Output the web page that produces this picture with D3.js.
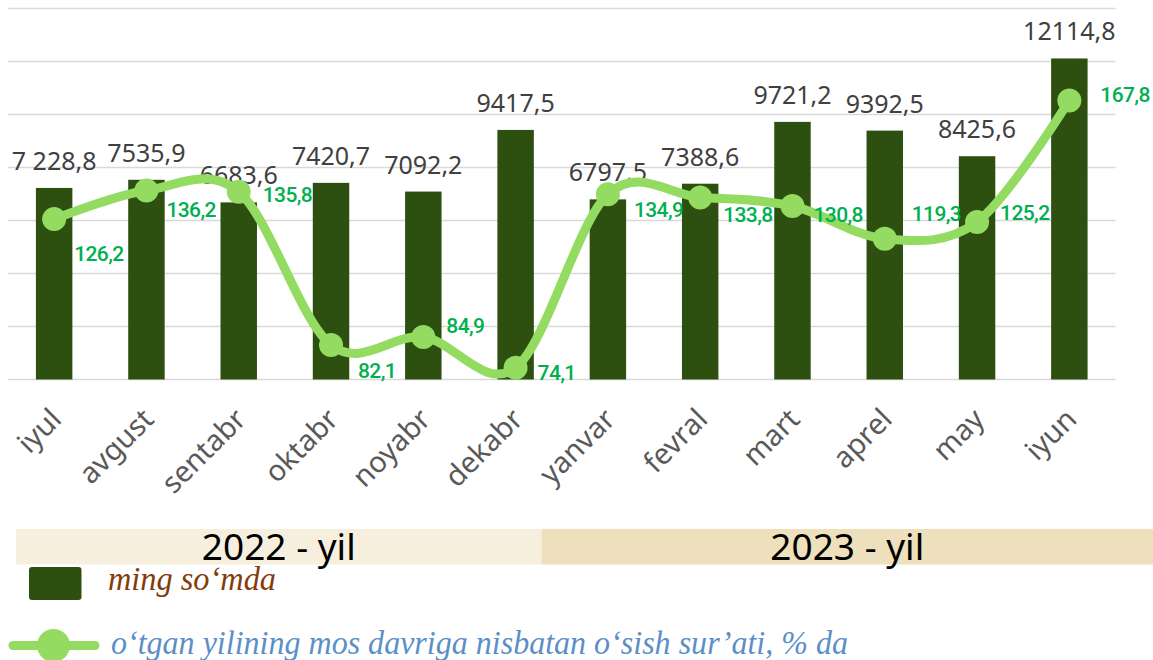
<!DOCTYPE html>
<html>
<head>
<meta charset="utf-8">
<script src="https://cdn.jsdelivr.net/npm/d3@7"></script>
<style>
  body { margin: 0; background: #fff; }
  svg { display: block; }
</style>
</head>
<body>
<div id="container"></div>
<script>
// data
var months = ["iyul", "avgust", "sentabr", "oktabr", "noyabr", "dekabr",
              "yanvar", "fevral", "mart", "aprel", "may", "iyun"];
var values = [7228.8, 7535.9, 6683.6, 7420.7, 7092.2, 9417.5,
              6797.5, 7388.6, 9721.2, 9392.5, 8425.6, 12114.8];
var valueLabels = ["7 228,8", "7535,9", "6683,6", "7420,7", "7092,2", "9417,5",
                   "6797,5", "7388,6", "9721,2", "9392,5", "8425,6", "12114,8"];
var growth = [126.2, 136.2, 135.8, 82.1, 84.9, 74.1,
              134.9, 133.8, 130.8, 119.3, 125.2, 167.8];
var years = [{label: "2022 - yil", from: 0, to: 6}, {label: "2023 - yil", from: 6, to: 12}];
var barTicks = [0, 2000, 4000, 6000, 8000, 10000, 12000, 14000];

// hand placed growth labels (offset from the marker: x to left edge, y to baseline)
var growthOffsets = [[20, 42], [20, 26], [24, 10], [27, 33], [23, -4], [22, 12],
                     [26, 23], [23, 25], [21, 16], [27, -18], [23, -2], [31, 2]];

const width = 1153;
const height = 660;

const svg = d3.select("div#container").append("svg")
    .attr("width", width)
    .attr("height", height);

//----------------------------SCALES----------------------------//
const xScale = d3.scaleBand()
    .domain(months)
    .range([8, 1115.5])
    .paddingInner(0.605)
    .paddingOuter(0.3025);

const yScale = d3.scaleLinear()
    .domain([0, 14000])
    .range([379.5, 8.5]);

const y2Scale = d3.scaleLinear()
    .domain([70, 200])
    .range([379.5, 8.5]);

function cx(i) { return xScale(months[i]) + xScale.bandwidth() / 2; }

//----------------------------GRID-----------------------------//
svg.append("g")
    .attr("class", "grid")
    .selectAll("line")
    .data(barTicks)
    .enter()
    .append("line")
    .attr("x1", 8)
    .attr("x2", 1115.5)
    .attr("y1", function(d) { return yScale(d); })
    .attr("y2", function(d) { return yScale(d); })
    .attr("stroke", "#d9d9d9")
    .attr("stroke-width", 1.6);

//----------------------------BARS-----------------------------//
svg.append("g")
    .selectAll("rect")
    .data(values)
    .enter()
    .append("rect")
    .attr("x", function(d, i) { return xScale(months[i]); })
    .attr("y", function(d) { return yScale(d); })
    .attr("width", xScale.bandwidth())
    .attr("height", function(d) { return yScale(0) - yScale(d); })
    .attr("fill", "#2d5011");

svg.append("g")
    .selectAll("text")
    .data(values)
    .enter()
    .append("text")
    .attr("x", function(d, i) { return cx(i); })
    .attr("y", function(d) { return yScale(d) - 18; })
    .attr("text-anchor", "middle")
    .style("font-family", "'Noto Sans', sans-serif")
    .style("font-size", "25px")
    .style("fill", "#404040")
    .text(function(d, i) { return valueLabels[i]; });

//----------------------------LINE-----------------------------//
const line = d3.line()
    .x(function(d, i) { return cx(i); })
    .y(function(d) { return y2Scale(d); })
    .curve(d3.curveCardinal.tension(0));

svg.append("path")
    .datum(growth)
    .attr("d", line)
    .attr("fill", "none")
    .attr("stroke", "#94db62")
    .attr("stroke-width", 9)
    .attr("stroke-linecap", "round");

svg.append("g")
    .selectAll("circle")
    .data(growth)
    .enter()
    .append("circle")
    .attr("cx", function(d, i) { return cx(i); })
    .attr("cy", function(d) { return y2Scale(d); })
    .attr("r", 12)
    .attr("fill", "#94db62");

svg.append("g")
    .selectAll("text")
    .data(growth)
    .enter()
    .append("text")
    .attr("x", function(d, i) { return cx(i) + growthOffsets[i][0]; })
    .attr("y", function(d, i) { return y2Scale(d) + growthOffsets[i][1]; })
    .style("font-family", "Roboto, sans-serif")
    .style("font-size", "21px")
    .style("font-weight", "500")
    .style("letter-spacing", "-0.6px")
    .style("fill", "#00b050")
    .text(function(d) { return d3.format(".1f")(d).replace(".", ","); });

//---------------------------X AXIS----------------------------//
svg.append("g")
    .selectAll("text")
    .data(months)
    .enter()
    .append("text")
    .attr("transform", function(d, i) {
      return "translate(" + (cx(i) + 9) + ",421) rotate(-45)";
    })
    .attr("text-anchor", "end")
    .style("font-family", "'Noto Sans', sans-serif")
    .style("font-size", "29px")
    .style("fill", "#595959")
    .text(function(d) { return d; });

//---------------------------YEARS-----------------------------//
const yearX = d3.scaleLinear().domain([0, 6, 12]).range([16, 541.5, 1153]);
const yearColors = ["#f7efde", "#efe0bd"];

const yearG = svg.append("g")
    .selectAll("g")
    .data(years)
    .enter()
    .append("g");

yearG.append("rect")
    .attr("x", function(d) { return yearX(d.from); })
    .attr("y", 529)
    .attr("width", function(d) { return yearX(d.to) - yearX(d.from); })
    .attr("height", 35.5)
    .attr("fill", function(d, i) { return yearColors[i]; });

yearG.append("text")
    .attr("x", function(d) { return (yearX(d.from) + yearX(d.to)) / 2; })
    .attr("y", 560)
    .attr("text-anchor", "middle")
    .attr("textLength", 154)
    .attr("lengthAdjust", "spacingAndGlyphs")
    .style("font-family", "'Noto Sans', sans-serif")
    .style("font-size", "37px")
    .style("fill", "#000")
    .text(function(d) { return d.label; });

//---------------------------LEGEND----------------------------//
svg.append("rect")
    .attr("x", 29)
    .attr("y", 567)
    .attr("width", 52.5)
    .attr("height", 33)
    .attr("rx", 3)
    .attr("fill", "#2d5011");

svg.append("text")
    .attr("x", 108)
    .attr("y", 590)
    .attr("textLength", 168)
    .attr("lengthAdjust", "spacingAndGlyphs")
    .style("font-family", "'Liberation Serif', serif")
    .style("font-style", "italic")
    .style("font-size", "33px")
    .style("fill", "#843c0c")
    .text("ming so\u2018mda");

svg.append("line")
    .attr("x1", 13)
    .attr("x2", 95)
    .attr("y1", 645.5)
    .attr("y2", 645.5)
    .attr("stroke", "#94db62")
    .attr("stroke-width", 9)
    .attr("stroke-linecap", "round");

svg.append("circle")
    .attr("cx", 53.5)
    .attr("cy", 645.5)
    .attr("r", 16.5)
    .attr("fill", "#94db62");

svg.append("text")
    .attr("x", 111)
    .attr("y", 654)
    .attr("textLength", 737)
    .attr("lengthAdjust", "spacingAndGlyphs")
    .style("font-family", "'Liberation Serif', serif")
    .style("font-style", "italic")
    .style("font-size", "33px")
    .style("fill", "#5b8fc7")
    .text("o\u2018tgan yilining mos davriga nisbatan o\u2018sish sur\u2019ati, % da");
</script>
</body>
</html>
